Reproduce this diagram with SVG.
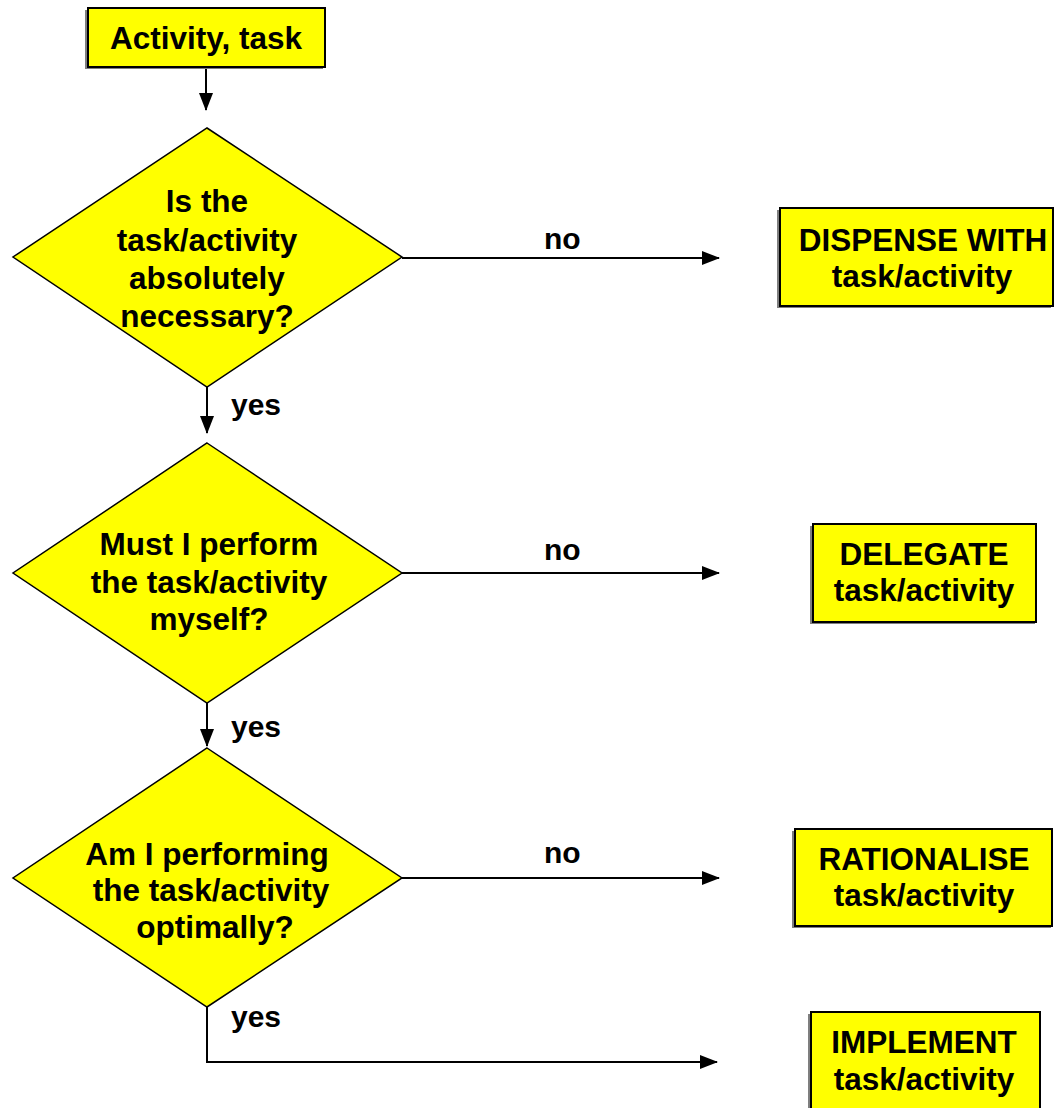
<svg xmlns="http://www.w3.org/2000/svg" width="1054" height="1108" viewBox="0 0 1054 1108">
<style>
  .box { fill: #ffff00; stroke: #000; stroke-width: 2; }
  .shadow { fill: #7f7f7f; }
  .dia { fill: #ffff00; stroke: #000; stroke-width: 1.5; }
  .t { font-family: "Liberation Sans", Arial, sans-serif; font-weight: bold; font-size: 31.5px; fill: #000; text-anchor: middle; }
  .lbl { font-family: "Liberation Sans", Arial, sans-serif; font-weight: bold; font-size: 30px; fill: #000; }
  .edge { fill: none; stroke: #000; stroke-width: 2; marker-end: url(#arr); }
</style>
<defs>
  <marker id="arr" markerUnits="userSpaceOnUse" markerWidth="18" markerHeight="14" refX="17" refY="7" orient="auto">
    <path d="M0,0 L18,7 L0,14 Z" fill="#000"/>
  </marker>
</defs>
<rect width="1054" height="1108" fill="#fff"/>

<g id="connectors">
  <path class="edge" d="M206,67 L206,110"/>
  <path class="edge" d="M402,258 L719,258"/>
  <path class="edge" d="M207,387 L207,433"/>
  <path class="edge" d="M402,573 L719,573"/>
  <path class="edge" d="M207,703 L207,746"/>
  <path class="edge" d="M402,878 L719,878"/>
  <path class="edge" d="M207,1007 L207,1062 L717,1062"/>
  <text class="lbl" x="544" y="249">no</text>
  <text class="lbl" x="544" y="560">no</text>
  <text class="lbl" x="544" y="863">no</text>
  <text class="lbl" x="231" y="415">yes</text>
  <text class="lbl" x="231" y="737">yes</text>
  <text class="lbl" x="231" y="1027">yes</text>
</g>

<g id="start">
  <rect class="shadow" x="85" y="10" width="238" height="59"/>
  <rect class="box" x="88" y="8" width="237" height="59"/>
  <text class="t" x="206" y="49">Activity, task</text>
</g>

<g id="q1">
  <polygon class="dia" points="207,128 402,257 207,387 13,257"/>
  <text class="t" x="207" y="212">Is the</text>
  <text class="t" x="207" y="251">task/activity</text>
  <text class="t" x="207" y="289">absolutely</text>
  <text class="t" x="207" y="327">necessary?</text>
</g>

<g id="q2">
  <polygon class="dia" points="207,443 402,573 207,703 13,573"/>
  <text class="t" x="209" y="555">Must I perform</text>
  <text class="t" x="209" y="593">the task/activity</text>
  <text class="t" x="209" y="630">myself?</text>
</g>

<g id="q3">
  <polygon class="dia" points="207,748 402,878 207,1007 13,878"/>
  <text class="t" x="207" y="865">Am I performing</text>
  <text class="t" x="211" y="901">the task/activity</text>
  <text class="t" x="215" y="938">optimally?</text>
</g>

<g id="dispense">
  <rect class="shadow" x="777" y="210" width="274" height="98"/>
  <rect class="box" x="780" y="208" width="273" height="98"/>
  <text class="t" x="923" y="251">DISPENSE WITH</text>
  <text class="t" x="922" y="287">task/activity</text>
</g>

<g id="delegate">
  <rect class="shadow" x="810" y="526" width="225" height="98"/>
  <rect class="box" x="813" y="524" width="223" height="98"/>
  <text class="t" x="924" y="565">DELEGATE</text>
  <text class="t" x="924" y="601">task/activity</text>
</g>

<g id="rationalise">
  <rect class="shadow" x="792" y="831" width="259" height="97"/>
  <rect class="box" x="795" y="829" width="257" height="97"/>
  <text class="t" x="924" y="870">RATIONALISE</text>
  <text class="t" x="924" y="906">task/activity</text>
</g>

<g id="implement">
  <rect class="shadow" x="808" y="1014" width="231" height="100"/>
  <rect class="box" x="811" y="1012" width="229" height="100"/>
  <text class="t" x="924" y="1053">IMPLEMENT</text>
  <text class="t" x="924" y="1090">task/activity</text>
</g>
</svg>
